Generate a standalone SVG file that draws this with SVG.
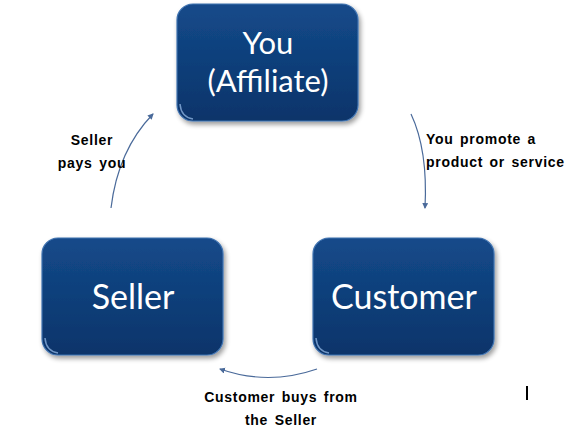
<svg xmlns="http://www.w3.org/2000/svg" width="585" height="437" viewBox="0 0 585 437">
<defs>
<linearGradient id="g" x1="0" y1="0" x2="0" y2="1">
<stop offset="0" stop-color="#144a8a"/>
<stop offset="1" stop-color="#0a346a"/>
</linearGradient>
<filter id="sh" x="-10%" y="-10%" width="125%" height="130%">
<feGaussianBlur in="SourceAlpha" stdDeviation="2.5"/>
<feOffset dx="2" dy="3"/>
<feComponentTransfer><feFuncA type="linear" slope="0.4"/></feComponentTransfer>
<feMerge><feMergeNode/><feMergeNode in="SourceGraphic"/></feMerge>
</filter>
<marker id="ah" markerWidth="8" markerHeight="8" refX="5" refY="3" orient="auto" markerUnits="userSpaceOnUse">
<path d="M0,0 L6,3 L0,6 Z" fill="#4a6a9a"/>
</marker>
<style>
.box{fill:url(#g);stroke:#3f72b0;stroke-width:1.2;filter:url(#sh)}
.hl{fill:none;stroke:#9cc2ee;stroke-width:1.5;opacity:0.7}
.nt{font-family:Lato,"Open Sans",sans-serif;font-size:34px;fill:#fff;text-anchor:middle}
.lb{font-family:"Liberation Sans",Arial,sans-serif;font-size:14px;font-weight:bold;fill:#000;letter-spacing:0.7px;word-spacing:2px}
.cn{fill:none;stroke:#4a6a9a;stroke-width:1.2;marker-end:url(#ah)}
</style>
</defs>
<rect width="585" height="437" fill="#fff"/>
<g id="you">
<rect class="box" x="177" y="4" width="181" height="117" rx="16"/>
<path class="hl" d="M180,104 Q181,117 193,119"/>
<text class="nt" x="268" y="54" style="font-size:31px">You</text>
<text class="nt" x="268" y="92" style="font-size:31px">(Affiliate)</text>
</g>
<g id="seller">
<rect class="box" x="42" y="238" width="181" height="117" rx="16"/>
<path class="hl" d="M45,338 Q46,351 58,353"/>
<text class="nt" x="133" y="309">Seller</text>
</g>
<g id="customer">
<rect class="box" x="313" y="238" width="181" height="117" rx="16"/>
<path class="hl" d="M316,338 Q317,351 329,353"/>
<text class="nt" x="404" y="309">Customer</text>
</g>
<g id="connectors">
<path class="cn" d="M111,208 Q118,150 153,114"/>
<path class="cn" d="M411,114 Q428,150 425,208"/>
<path class="cn" d="M317,369 Q268,386 220,369"/>
</g>
<g id="labels">
<text class="lb" x="92" y="145" text-anchor="middle">Seller</text>
<text class="lb" x="92" y="168" text-anchor="middle">pays you</text>
<text class="lb" x="426" y="144">You promote  a</text>
<text class="lb" x="426" y="167">product  or  service</text>
<text class="lb" x="281" y="402" text-anchor="middle">Customer buys from</text>
<text class="lb" x="281" y="425" text-anchor="middle">the Seller</text>
</g>
<rect x="526" y="386" width="2" height="14" fill="#000"/>
</svg>
